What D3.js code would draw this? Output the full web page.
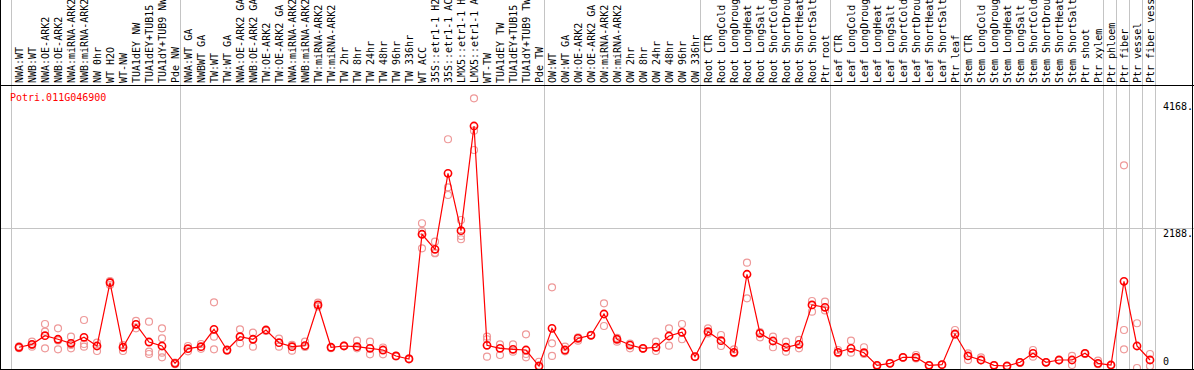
<!DOCTYPE html>
<html>
<head>
<meta charset="utf-8">
<script src="https://cdn.jsdelivr.net/npm/d3@7"></script>
<style>
  html, body { margin: 0; padding: 0; background: #fff; }
  svg { display: block; }
  text { font-family: "DejaVu Sans Mono", monospace; font-size: 10px; }
</style>
</head>
<body>
<svg width="1194" height="370"></svg>
<script>
const geneId = 'Potri.011G046900'

const samples = [
  'NWA:WT', 'NWB:WT', 'NWA:OE-ARK2', 'NWB:OE-ARK2', 'NWA:miRNA-ARK2', 'NWB:miRNA-ARK2',
  'NW 0hr', 'WT H2O', 'WT-NW', 'TUA1dEY NW', 'TUA1dEY+TUB15', 'TUA1dY+TUB9 NW', 'Pde NW',
  'NWA:WT GA', 'NWBWT GA', 'TW:WT', 'TW:WT GA', 'NWA:OE-ARK2 GA', 'NWB:OE-ARK2 GA',
  'TW:OE-ARK2', 'TW:OE-ARK2 GA', 'NWA:miRNA-ARK2', 'NWB:miRNA-ARK2', 'TW:miRNA-ARK2',
  'TW:miRNA-ARK2', 'TW 2hr', 'TW 8hr', 'TW 24hr', 'TW 48hr', 'TW 96hr', 'TW 336hr', 'WT ACC',
  '35S::etr1-1 H2O', '35S::etr1-1 ACC', 'LMX5::etr1-1 H2O', 'LMX5::etr1-1 ACC', 'WT-TW',
  'TUA1dEY TW', 'TUA1dEY+TUB15', 'TUA1dY+TUB9 TW', 'Pde TW',
  'OW:WT', 'OW:WT GA', 'OW:OE-ARK2', 'OW:OE-ARK2 GA', 'OW:miRNA-ARK2', 'OW:miRNA-ARK2',
  'OW 2hr', 'OW 8hr', 'OW 24hr', 'OW 48hr', 'OW 96hr', 'OW 336hr',
  'Root CTR', 'Root LongCold', 'Root LongDrought', 'Root LongHeat', 'Root LongSalt',
  'Root ShortCold', 'Root ShortDrought', 'Root ShortHeat', 'Root ShortSalt', 'Ptr root',
  'Leaf CTR', 'Leaf LongCold', 'Leaf LongDrought', 'Leaf LongHeat', 'Leaf LongSalt',
  'Leaf ShortCold', 'Leaf ShortDrought', 'Leaf ShortHeat', 'Leaf ShortSalt', 'Ptr leaf',
  'Stem CTR', 'Stem LongCold', 'Stem LongDrought', 'Stem LongHeat', 'Stem LongSalt',
  'Stem ShortCold', 'Stem ShortDrought', 'Stem ShortHeat', 'Stem ShortSalt', 'Ptr shoot',
  'Ptr xylem', 'Ptr phloem', 'Ptr fiber', 'Ptr vessel', 'Ptr fiber vessel'
]

// first sample of every group (a grey separator is drawn before it)
const groupStarts = [0, 13, 41, 53, 63, 73, 84, 85, 86, 87, 88]

const means = [
  324, 370, 505, 449, 386, 480, 344, 1333, 324, 683, 406, 344, 73,
  302, 333, 605, 281, 489, 449, 594, 395, 333, 349, 985, 324, 344, 333, 308, 281, 188, 141,
  2090, 1855, 3043, 2146, 3782, 355, 308, 292, 281, 31,
  620, 281, 464, 511, 844, 449, 359, 308, 324, 500, 558, 177,
  567, 427, 245, 1465, 542, 422, 324, 370, 985, 949,
  245, 308, 239, 42, 73, 167, 167, 42, 52, 531,
  188, 125, 42, 31, 89, 230, 89, 125, 125, 230, 73,
  47, 1355, 344, 125
]

const replicates = [
  [340, 310], [411, 333, 360], [688, 567, 308], [620, 292, 430], [489, 308, 360],
  [750, 375, 333], [395, 266], [1349, 1297, 1360], [359, 266], [735, 620],
  [724, 255, 219], [620, 464, 239, 167], [60, 85],
  [344, 260], [375, 300], [1027, 489, 292], [281, 270], [605, 386], [552, 333],
  [594, 580], [458, 333], [270, 360], [411, 330], [1021, 960], [324, 310], [344, 350],
  [427, 308], [411, 214], [214, 320], [188, 180], [141, 150],
  [2262, 1871, 2140], [1974, 1793, 1800], [3575, 2824, 2704], [2313, 2063, 2012],
  [4215, 3709, 3407], [489, 449, 177], [370, 203], [370, 255], [527, 219, 167], [98, 20],
  [1261, 386, 188], [333, 260], [427, 480], [511, 520], [1011, 656], [411, 470],
  [308, 380], [308, 300], [411, 266], [620, 349], [688, 449], [177, 170],
  [620, 540], [516, 344], [292, 230], [1646, 1089], [480, 560], [489, 324],
  [411, 255], [438, 308], [1047, 880], [1036, 900],
  [281, 230], [427, 239], [324, 220], [42, 30], [73, 80], [167, 160], [203, 150],
  [42, 40], [52, 50], [594, 520],
  [230, 125], [167, 120], [42, 40], [31, 30], [89, 80], [281, 177], [89, 90],
  [125, 120], [188, 47], [230, 220], [114, 60],
  [47, 40], [3168, 594, 292], [699, 0], [219, 31]
]

const yTicks = [0, 2188, 4168]

const width = 1194
const height = 370
const headerY = 85
const bottomY = 369

const svg = d3.select('svg')

const xScale = d3.scaleBand()
  .domain(d3.range(samples.length))
  .range([11, 11 + 13 * samples.length])

const yScale = d3.scaleLinear()
  .domain([0, 4168])
  .range([368, 101.3])

const cx = (i) => xScale(i) + 8

drawGrid()
drawLabels()
drawReplicates()
drawMeans()
drawFrame()

function drawGrid () {
  svg.append('g')
    .selectAll('line')
    .data(groupStarts)
    .join('line')
      .attr('x1', (d) => xScale(0) + d * xScale.step() + 0.5)
      .attr('x2', (d) => xScale(0) + d * xScale.step() + 0.5)
      .attr('y1', 0)
      .attr('y2', bottomY)
      .attr('stroke', '#c4c4c4')

  svg.append('line') // middle reference line
    .attr('x1', 0)
    .attr('x2', width)
    .attr('y1', Math.round(yScale(2188)) + 0.5)
    .attr('y2', Math.round(yScale(2188)) + 0.5)
    .attr('stroke', '#c4c4c4')

  const ticks = svg.append('g')
  ticks.selectAll('text')
    .data(yTicks)
    .join('text')
      .attr('x', 1163)
      .attr('y', (d) => d === 0 ? yScale(d) - 3 : yScale(d) + 9)
      .text((d) => d === 0 ? '0' : d + '.')
}

function drawLabels () {
  svg.append('g')
    .selectAll('text')
    .data(samples)
    .join('text')
      .attr('transform', (d, i) => `translate(${cx(i) + 3.5},83) rotate(-90)`)
      .text((d) => d)

  svg.append('text')
    .attr('x', 10)
    .attr('y', 101)
    .attr('fill', '#ff0000')
    .text(geneId)
}

function drawReplicates () {
  const reps = []
  replicates.forEach((vals, i) => vals.forEach((v) => reps.push({ i, v })))

  svg.append('g')
    .selectAll('circle')
    .data(reps)
    .join('circle')
      .attr('cx', (d) => cx(d.i))
      .attr('cy', (d) => yScale(d.v))
      .attr('r', 3.5)
      .attr('fill', 'none')
      .attr('stroke', '#ee9999')
      .attr('stroke-width', 1.2)
}

function drawMeans () {
  const line = d3.line()
    .x((d, i) => cx(i))
    .y((d) => yScale(d))

  svg.append('path')
    .datum(means)
    .attr('d', line)
    .attr('fill', 'none')
    .attr('stroke', '#ff0000')
    .attr('stroke-width', 1.2)

  svg.append('g')
    .selectAll('circle')
    .data(means)
    .join('circle')
      .attr('cx', (d, i) => cx(i))
      .attr('cy', (d) => yScale(d))
      .attr('r', 3.6)
      .attr('fill', 'none')
      .attr('stroke', '#ff0000')
      .attr('stroke-width', 1.6)
}

function drawFrame () {
  svg.append('line')
    .attr('x1', 0).attr('x2', width)
    .attr('y1', headerY + 0.5).attr('y2', headerY + 0.5)
    .attr('stroke', '#000')

  svg.append('line')
    .attr('x1', 0).attr('x2', width)
    .attr('y1', bottomY + 0.5).attr('y2', bottomY + 0.5)
    .attr('stroke', '#000')

  svg.append('line')
    .attr('x1', 0.5).attr('x2', 0.5)
    .attr('y1', 0).attr('y2', height)
    .attr('stroke', '#000')

  svg.append('line')
    .attr('x1', width - 1.5).attr('x2', width - 1.5)
    .attr('y1', 0).attr('y2', height)
    .attr('stroke', '#000')
}
</script>
</body>
</html>
